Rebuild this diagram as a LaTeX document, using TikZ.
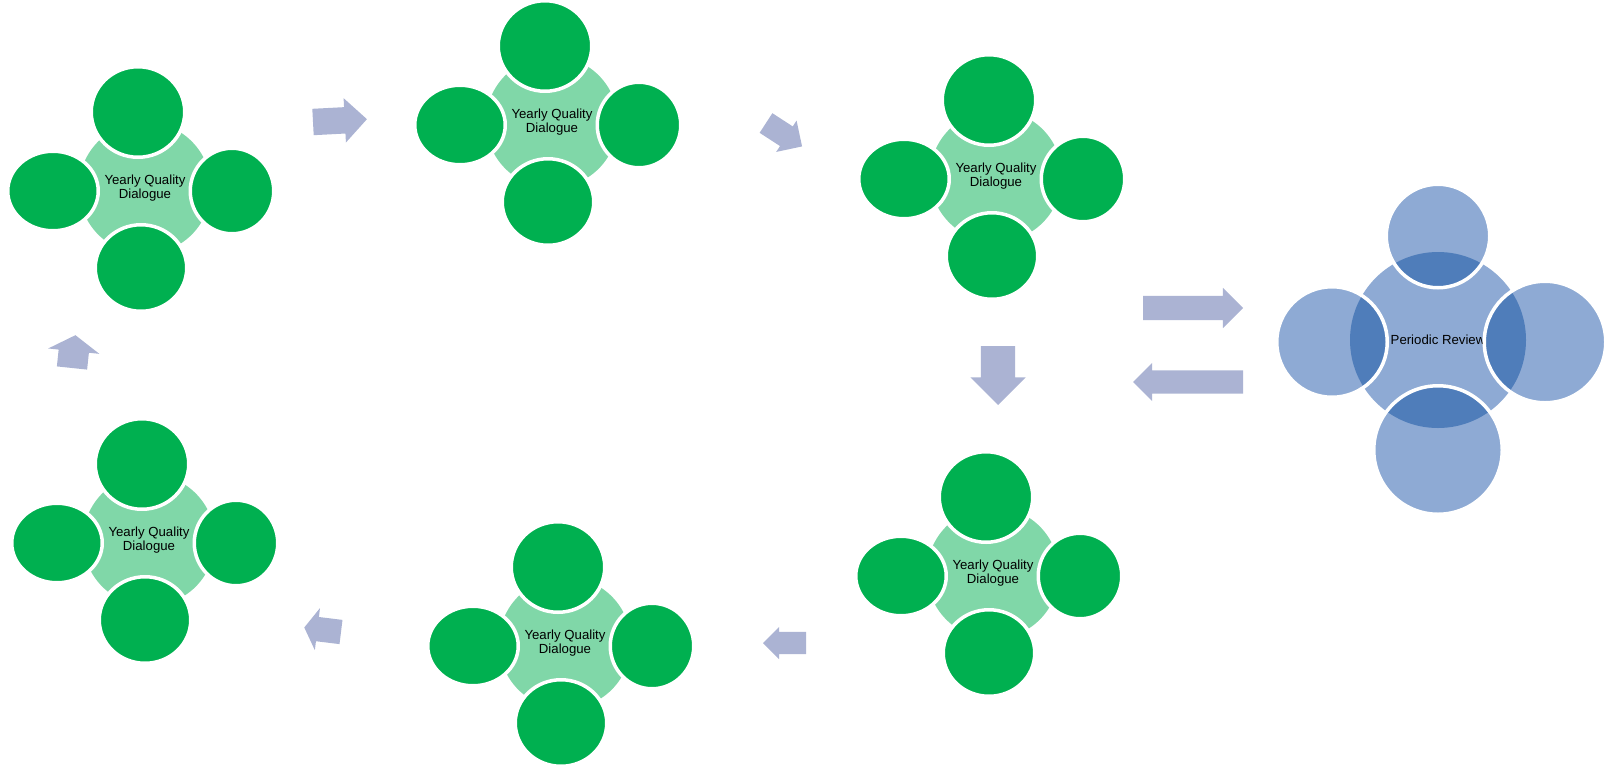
\documentclass[tikz,border=0pt]{standalone}
\usepackage{fontspec}
\setmainfont{Liberation Sans}
\usetikzlibrary{shapes.geometric,shapes.arrows}

\definecolor{petalgreen}{HTML}{00B050}
\definecolor{hubgreen}{HTML}{80D7A8}
\definecolor{revlight}{HTML}{8EAAD4}
\definecolor{revdark}{HTML}{4F7DBA}
\definecolor{arrowblue}{HTML}{ABB3D3}

\begin{document}
\begin{tikzpicture}[x=1pt, y=-1pt,
    lbl/.style={font=\fontsize{13.2}{13.4}\selectfont, align=center},
    hub/.style={circle, fill=hubgreen, minimum size=132pt, inner sep=0pt, lbl},
    petal/.style={ellipse, fill=petalgreen, draw=white, line width=3.5pt, inner sep=0pt},
    rev/.style={circle, fill=revlight, minimum size=176pt, inner sep=0pt, lbl},
    revpetal/.style={circle, fill=revlight, draw=white, line width=3.5pt, inner sep=0pt,
                     path picture={\fill[revdark] (pr.center) circle (88pt);}},
    flow/.style={single arrow, fill=arrowblue, anchor=tail, inner xsep=0pt, outer sep=0pt},
  ]
  \useasboundingbox (0,0) rectangle (1604,764);

  % Yearly quality dialogues
  \foreach \cl/\px/\py in {c1/145/188, c2/552/122, c3/996/176,
                           c4/993/573, c5/565/643, c6/149/540} {
    \node[hub] (\cl) at (\px,\py) {Yearly Quality\\Dialogue};
    \node[petal, minimum width=93.5pt, minimum height=90.5pt] (\cl-top) at (\px-7,\py-76) {};
    \node[petal, minimum width=90.5pt, minimum height=79.5pt] (\cl-left) at (\px-92,\py+3) {};
    \node[petal, minimum width=83.5pt, minimum height=85.5pt] (\cl-right) at (\px+87,\py+3) {};
    \node[petal, minimum width=91.5pt, minimum height=86.5pt] (\cl-bottom) at (\px-4,\py+80) {};
  }

  % Periodic review
  \node[rev] (pr) at (1438,340) {Periodic Review};
  \node[revpetal, minimum size=103.5pt] (pr-top) at (1438,236) {};
  \node[revpetal, minimum size=110.5pt] (pr-left) at (1332,342) {};
  \node[revpetal, minimum size=121.5pt] (pr-right) at (1545,342) {};
  \node[revpetal, minimum size=128.5pt] (pr-bottom) at (1438,450) {};

  % Block arrows
  \node[flow, rotate=3, minimum height=54pt, inner ysep=13pt,
        single arrow head extend=9pt] (a1) at (313,122) {};
  \node[flow, rotate=-33, minimum height=43pt, inner ysep=11.5pt,
        single arrow head extend=7pt] (a2) at (766,123) {};
  \node[flow, rotate=-90, minimum height=59pt, inner ysep=17pt,
        single arrow head extend=10.5pt] (a3) at (998,346) {};
  \node[flow, minimum height=100pt, inner ysep=12pt,
        single arrow head extend=8pt] (a4) at (1143,308) {};
  \node[flow, rotate=180, minimum height=110pt, inner ysep=11.5pt,
        single arrow head extend=7.5pt] (a5) at (1243,382) {};
  \node[flow, rotate=180, minimum height=43pt, inner ysep=11pt,
        single arrow head extend=5pt] (a6) at (806,643) {};
  \node[flow, rotate=173, minimum height=37pt, inner ysep=12pt,
        single arrow head extend=9pt, single arrow tip angle=116] (a7) at (341,632) {};
  \node[flow, rotate=84, minimum height=33pt, inner ysep=15pt,
        single arrow head extend=10.5pt, single arrow tip angle=116] (a8) at (72,368) {};

\end{tikzpicture}
\end{document}
